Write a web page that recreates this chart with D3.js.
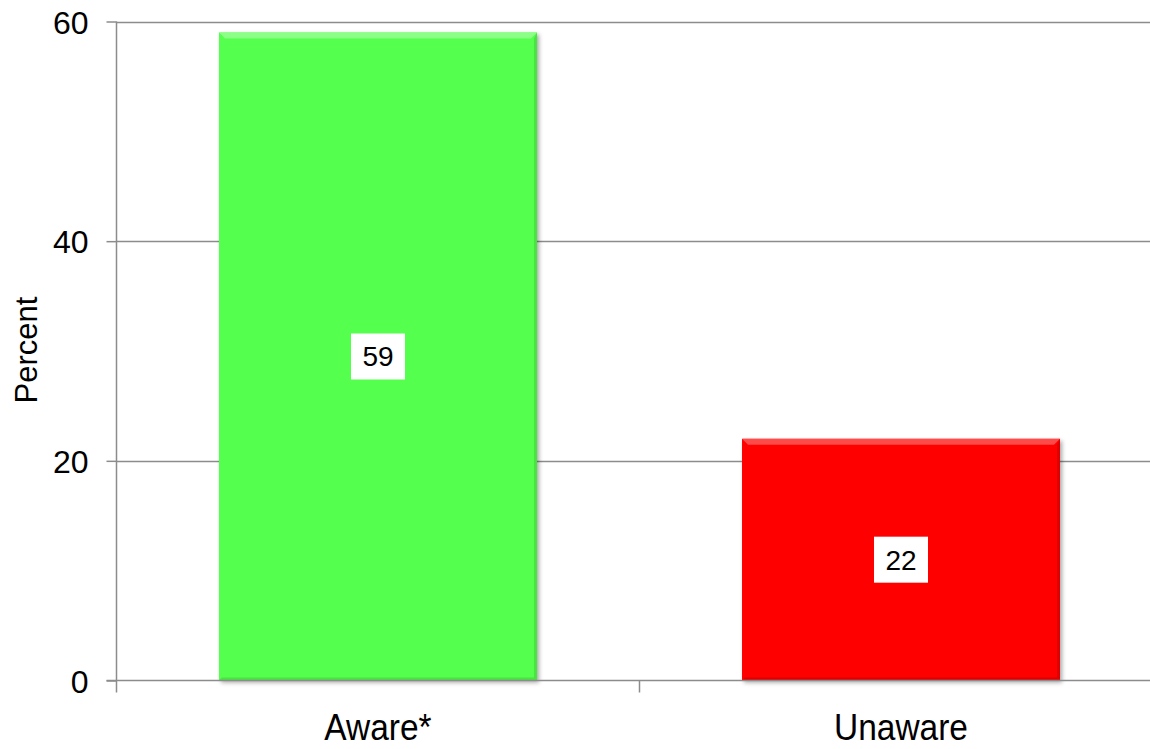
<!DOCTYPE html>
<html>
<head>
<meta charset="utf-8">
<script src="https://cdn.jsdelivr.net/npm/d3@7"></script>
<style>
  html, body { margin: 0; padding: 0; background: #fff; }
  svg { display: block; font-family: "Liberation Sans", Arial, sans-serif; }
</style>
</head>
<body>
<svg id="chart" width="1150" height="749"></svg>
<script>
// Awareness survey results
const categories = ["Aware*", "Unaware"];
const values = [59, 22];
const barColors = ["#55ff4e", "#ff0606"];
const bevelColors = ["#8cff86", "#ff4a4a"];
const edgeColors = ["#3fd23a", "#c80000"];
const yTicks = [0, 20, 40, 60];
const yTitle = "Percent";

const svg = d3.select("#chart");

const plotLeft = 116.5, plotRight = 1162.5, plotBottom = 680.5, plotTop = 21.5;

const x = d3.scaleBand().domain(categories).range([plotLeft, plotRight]).padding(0);
const y = d3.scaleLinear().domain([0, 60]).range([plotBottom, plotTop]);
const barW = x.bandwidth() * 0.608;

// drop shadow for the bars
const defs = svg.append("defs");
const f = defs.append("filter").attr("id", "shadow")
  .attr("x", "-5%").attr("y", "-5%").attr("width", "115%").attr("height", "115%");
f.append("feDropShadow").attr("dx", 2).attr("dy", 2).attr("stdDeviation", 2)
  .attr("flood-color", "#000").attr("flood-opacity", 0.35);

// horizontal gridlines
svg.append("g").selectAll("line")
  .data(yTicks.filter(d => d > 0))
  .join("line")
  .attr("x1", plotLeft).attr("x2", plotRight)
  .attr("y1", d => Math.round(y(d)) + 0.5).attr("y2", d => Math.round(y(d)) + 0.5)
  .attr("stroke", "#8c8c8c").attr("stroke-width", 1.5);

// bars with a bevelled edge
const bars = svg.append("g").selectAll("g")
  .data(categories.map((c, i) => ({ c, v: values[i], i })))
  .join("g");

const bx0 = d => x(d.c) + (x.bandwidth() - barW) / 2;

bars.append("rect")
  .attr("x", bx0)
  .attr("y", d => y(d.v))
  .attr("width", barW)
  .attr("height", d => y(0) - y(d.v))
  .attr("fill", d => barColors[d.i])
  .attr("filter", "url(#shadow)");

const bev = 6;
// top bevel highlight
bars.append("path")
  .attr("d", d => {
    const x0 = bx0(d), x1 = x0 + barW, y0 = y(d.v);
    return `M${x0},${y0}L${x1},${y0}L${x1 - bev},${y0 + bev}L${x0 + bev},${y0 + bev}Z`;
  })
  .attr("fill", d => bevelColors[d.i]);
// right bevel shade
bars.append("path")
  .attr("d", d => {
    const x0 = bx0(d), x1 = x0 + barW, y0 = y(d.v), y1 = y(0);
    return `M${x1},${y0}L${x1},${y1}L${x1 - 3},${y1 - 3}L${x1 - 3},${y0 + bev}Z`;
  })
  .attr("fill", d => edgeColors[d.i]).attr("opacity", 0.6);
// bottom bevel shade
bars.append("path")
  .attr("d", d => {
    const x0 = bx0(d), x1 = x0 + barW, y1 = y(0);
    return `M${x0},${y1}L${x1},${y1}L${x1 - 3},${y1 - 3}L${x0 + 3},${y1 - 3}Z`;
  })
  .attr("fill", d => edgeColors[d.i]).attr("opacity", 0.6);

// value labels in white boxes at bar centres
const lbl = bars.append("g")
  .attr("transform", d => `translate(${x(d.c) + x.bandwidth() / 2},${(y(d.v) + y(0)) / 2})`);
lbl.append("rect")
  .attr("x", -27).attr("y", -23).attr("width", 54).attr("height", 46)
  .attr("fill", "#fff");
lbl.append("text")
  .attr("text-anchor", "middle").attr("y", 10)
  .attr("font-size", 28).attr("fill", "#000")
  .text(d => d.v);

// y axis
const yAxis = svg.append("g")
  .attr("transform", `translate(${plotLeft},0)`)
  .call(d3.axisLeft(y).tickValues(yTicks).tickSize(10).tickPadding(18).tickFormat(d3.format("d")));
yAxis.select(".domain").remove();
yAxis.selectAll(".tick line").attr("stroke", "#8c8c8c").attr("stroke-width", 1.5);
yAxis.selectAll(".tick text")
  .attr("font-size", 32).attr("fill", "#000")
  .attr("font-family", "'Liberation Sans', Arial, sans-serif")
  .attr("dy", "0.36em");
svg.append("line")
  .attr("x1", plotLeft).attr("x2", plotLeft).attr("y1", plotTop).attr("y2", plotBottom + 12)
  .attr("stroke", "#8c8c8c").attr("stroke-width", 1.5);

// x axis baseline and category dividers
svg.append("line")
  .attr("x1", plotLeft - 10).attr("x2", plotRight).attr("y1", plotBottom).attr("y2", plotBottom)
  .attr("stroke", "#8c8c8c").attr("stroke-width", 1.5);
svg.append("g").selectAll("line")
  .data(categories.slice(1))
  .join("line")
  .attr("x1", d => x(d)).attr("x2", d => x(d))
  .attr("y1", plotBottom).attr("y2", plotBottom + 12)
  .attr("stroke", "#8c8c8c").attr("stroke-width", 1.5);

// category labels (condensed)
svg.append("g").selectAll("text")
  .data(categories)
  .join("text")
  .attr("transform", d => `translate(${x(d) + x.bandwidth() / 2},740) scale(0.93,1.05)`)
  .attr("text-anchor", "middle")
  .attr("font-size", 36).attr("fill", "#000")
  .text(d => d);

// y axis title
svg.append("text")
  .attr("transform", "translate(37,350) rotate(-90)")
  .attr("text-anchor", "middle")
  .attr("font-size", 31).attr("fill", "#000")
  .text(yTitle);
</script>
</body>
</html>
